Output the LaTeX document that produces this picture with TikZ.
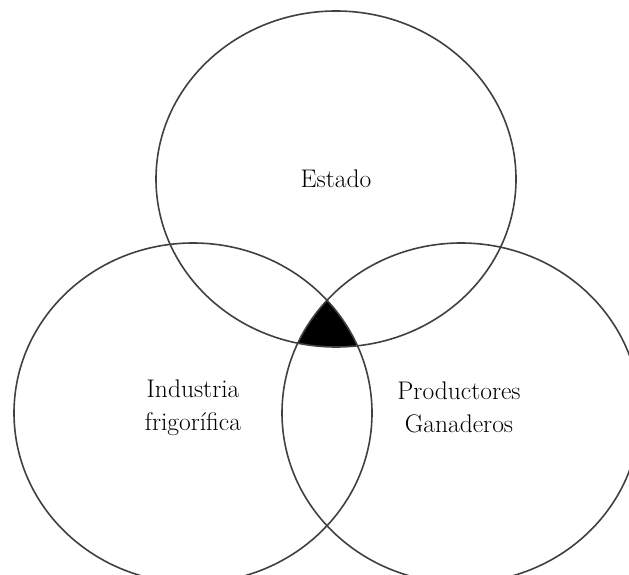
\documentclass[tikz,border=0pt]{standalone}
\begin{document}
\begin{tikzpicture}[x=1pt,y=-1pt,
  ring/.style={draw=black!75, line width=1.6pt},
  lbl/.style={font=\fontsize{25.5}{33}\selectfont, align=center, text=black, inner sep=0pt}]
\useasboundingbox (0,0) rectangle (629,575);
\begin{scope}
  \clip (336,179) ellipse [x radius=180pt, y radius=168pt];
  \clip (193,413) ellipse [x radius=179pt, y radius=170pt];
  \fill[black] (461,413) ellipse [x radius=179pt, y radius=170pt];
\end{scope}
\begin{scope}
  \clip (0,0) rectangle (629,575);
  \draw[ring] (336,179) ellipse [x radius=180pt, y radius=168pt];
  \draw[ring] (193,413) ellipse [x radius=179pt, y radius=170pt];
  \draw[ring] (461,413) ellipse [x radius=179pt, y radius=170pt];
\end{scope}
\node[lbl] (estado) at (336,179) {Estado};
\node[lbl] (industria) at (193,408) {Industria\\frigorífica};
\node[lbl] (productores) at (459,407) {Productores\\Ganaderos};
\end{tikzpicture}
\end{document}
